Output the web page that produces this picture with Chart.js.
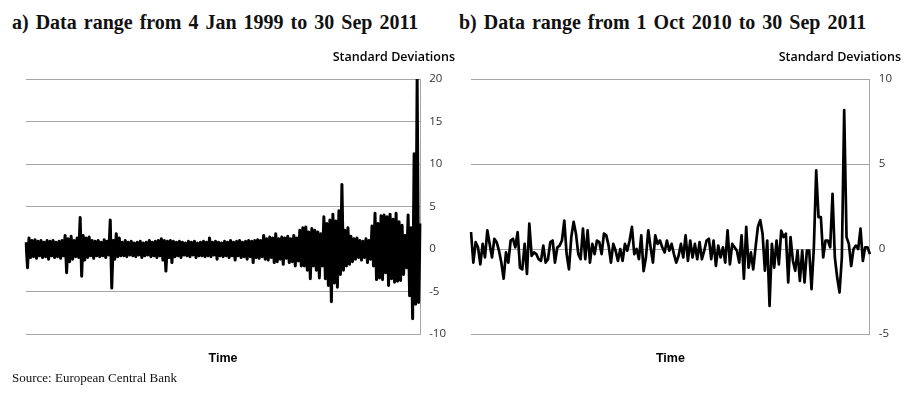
<!DOCTYPE html>
<html>
<head>
<meta charset="utf-8">
<script src="https://cdn.jsdelivr.net/npm/chart.js@4.4.1/dist/chart.umd.min.js"></script>
<style>
  body { margin: 0; background: #fff; width: 916px; height: 399px; position: relative; overflow: hidden; }
  .hd { position: absolute; top: 11px; font: bold 20px "Liberation Serif", serif; word-spacing: 2px; color: #111; white-space: nowrap; }
  .box { position: absolute; top: 40px; height: 334px; }
  .src { position: absolute; left: 12px; top: 370px; font: 13px "Liberation Serif", serif; color: #111; }
</style>
</head>
<body>
<div class="hd" style="left:12px">a) Data range from 4 Jan 1999 to 30 Sep 2011</div>
<div class="hd" style="left:459px">b) Data range from 1 Oct 2010 to 30 Sep 2011</div>
<div class="box" style="left:0;width:460px"><canvas id="chartA"></canvas></div>
<div class="box" style="left:452px;width:464px"><canvas id="chartB"></canvas></div>
<div class="src">Source: European Central Bank</div>
<script>
const seriesA = [
  0.8, -2.2, 1.3, -1.0, 1.0, -0.9, 1.1, -1.1, 0.9, -0.8, 1.0, -1.0, 0.8, -0.9, 1.0, -1.2,
  0.9, -0.8, 1.0, -1.0, 0.8, -0.9, 0.9, -1.1, 1.0, -0.8, 1.6, -2.8, 1.2, -1.5, 1.5, -1.2,
  1.0, -0.9, 1.3, -1.0, 3.7, -3.2, 1.6, -1.3, 1.3, -1.0, 1.4, -0.8, 1.0, -1.1, 0.9, -0.8,
  1.0, -0.9, 0.8, -0.8, 1.1, -1.0, 0.9, -0.7, 3.4, -4.6, 1.0, -1.2, 1.8, -0.9, 1.3, -0.8,
  0.8, -0.8, 1.0, -0.9, 0.8, -0.7, 0.9, -0.8, 0.7, -0.9, 0.8, -0.7, 0.9, -1.0, 0.7, -0.8,
  0.8, -0.7, 1.0, -0.9, 0.8, -0.8, 0.9, -1.0, 1.0, -0.8, 1.2, -1.3, 1.0, -2.6, 0.9, -1.0,
  1.0, -1.6, 0.9, -0.9, 0.8, -0.8, 0.9, -1.0, 0.8, -0.7, 0.7, -0.8, 0.9, -0.9, 0.8, -0.7,
  0.9, -1.0, 0.7, -0.8, 0.8, -0.8, 0.9, -0.9, 0.8, -0.8, 1.3, -0.9, 0.8, -0.7, 0.9, -1.2,
  0.8, -0.8, 0.7, -0.9, 0.9, -0.8, 0.8, -1.0, 1.0, -0.8, 0.8, -1.3, 0.9, -0.8, 1.0, -1.0,
  0.8, -0.9, 0.9, -1.2, 1.0, -0.9, 0.9, -1.6, 1.0, -1.0, 1.1, -1.1, 1.0, -0.9, 1.6, -1.2,
  1.2, -1.3, 1.4, -1.0, 1.3, -1.6, 1.8, -1.5, 1.2, -1.2, 1.4, -1.8, 1.3, -1.1, 1.5, -1.6,
  1.2, -1.5, 1.6, -2.0, 1.3, -1.4, 2.2, -2.0, 2.5, -2.0, 2.6, -2.5, 2.0, -3.5, 2.4, -2.0,
  2.2, -2.5, 2.0, -3.4, 1.8, -2.0, 3.8, -3.5, 3.0, -4.3, 3.4, -6.2, 4.1, -4.0, 3.3, -4.5,
  4.5, -3.0, 7.6, -2.5, 2.2, -2.0, 2.5, -1.8, 1.5, -1.5, 1.2, -1.2, 1.3, -1.0, 1.0, -1.3,
  0.9, -1.0, 1.2, -1.6, 1.0, -1.2, 2.7, -2.0, 4.2, -3.6, 3.0, -3.4, 3.9, -3.6, 4.0, -2.8,
  3.8, -4.3, 4.1, -3.5, 3.5, -3.9, 4.2, -3.8, 3.2, -3.7, 2.8, -3.0, 1.6, -2.2, 4.0, -5.5,
  2.5, -8.2, 11.2, -6.5, 20.0, -6.3, 3.0
];

// panel b: last twelve months
const seriesB = [
  1.0, -0.8, 0.4, 0.1, -0.9, 0.3, -0.5, 1.1, 0.3, -0.5, 0.6, 0.4, -0.1, -0.8, -1.75, -0.2,
  -0.8, 0.5, 0.6, 0.1, 1.0, -1.1, -1.2, 0.3, -1.46, 1.5, -0.4, -0.2, -0.3, -0.6, -0.7, 0.2,
  -0.8, -0.6, 0.4, 0.5, -0.8, 0.1,
  0.2, 0.5, 1.67, -0.3, -1.2, 0.7, 1.6, 0.9, -0.3, -0.6, 1.2, -0.6, 1.1, -0.8, 0.3, -0.3,
  0.5, 0.4, -0.3, 0.9, 0.8, 0.2, -0.8, 0.3, -0.1, -0.7, 0.0, -0.7, 0.3, -0.1, 0.5, 1.3,
  -0.3, 0.0, -0.6, 0.8, -1.3, -0.5, 1.1, 0.1, -0.8, 0.8, 0.3, 0.5, 0.1, -0.2,
  0.5, -0.1, 0.3, -0.3, -0.8, -0.4, 0.3, -0.5, 0.8, -0.7, 0.5, -0.5, 0.3, -0.6, 0.4, -0.6,
  -0.1, 0.5, 0.6, -0.6, 0.5, -1.0, 0.2, -0.5, 0.1, -0.8, 1.1, -0.9, 0.3, 0.1, -0.1, -0.8,
  0.8, -1.75, 1.3, -1.1, -0.2, -1.2, 0.1, 1.3, 1.7, 0.9,
  -1.28, 0.5, -3.35, 0.3, -1.1, 0.5, -0.9, 1.08, 0.7, 0.9, -1.97, 0.7, -0.69, -1.28, -0.1, -1.87,
  -0.1, -1.97, -0.1, -0.1, -2.36, 0.1, 4.62, 1.87, 1.87, -0.5, 0.5, 0.5, 0.1, 3.25, -0.5, -1.68,
  -2.56, -0.5, 8.17, 0.7, 0.3, -1.0, 0.0, 0.2, 0.0, 1.2, -0.7, 0.1, 0.1, -0.3
];

const ticksA = { min: -10, max: 20, step: 5 };
const ticksB = { min: -5, max: 10, step: 5 };
const axisTitle = "Standard Deviations";
const xTitle = "Time";

const makeChart = (id, values, range, lineWidth, pad) => {
  const ctx = document.getElementById(id).getContext("2d");
  return new Chart(ctx, {
    type: "line",
    data: {
      labels: values.map((_, i) => i),
      datasets: [
        {
          data: values,
          borderColor: "#000",
          borderWidth: lineWidth,
          borderJoinStyle: "round",
          pointRadius: 0,
          tension: 0,
        },
      ],
    },
    options: {
      responsive: true,
      maintainAspectRatio: false,
      animation: false,
      layout: { padding: pad },
      plugins: {
        legend: { display: false },
        tooltip: { enabled: false },
        title: {
          display: true,
          text: axisTitle,
          align: "end",
          color: "#000",
          font: { family: "Open Sans", size: 12.5, weight: "600", lineHeight: 1.2 },
          padding: { top: 4, bottom: 14 },
        },
      },
      scales: {
        x: {
          grid: { display: false },
          border: { display: false },
          ticks: { display: false },
          title: {
            display: true,
            text: xTitle,
            color: "#000",
            font: { family: "Liberation Sans", size: 12.5, weight: "bold", lineHeight: 1.2 },
            padding: { top: 9, bottom: 0 },
          },
        },
        y: {
          position: "right",
          min: range.min,
          max: range.max,
          grid: { color: "#a6a6a6", lineWidth: 1, drawTicks: false },
          border: { display: true, color: "#a6a6a6" },
          ticks: {
            stepSize: range.step,
            padding: 9,
            color: "#333",
            font: { family: "Open Sans", size: 11.5 },
          },
        },
      },
    },
  });
};

makeChart("chartA", seriesA, ticksA, 3, { left: 26, right: 5, top: 6, bottom: 8 });
makeChart("chartB", seriesB, ticksB, 2.7, { left: 19, right: 15, top: 6, bottom: 8 });
</script>
</body>
</html>
